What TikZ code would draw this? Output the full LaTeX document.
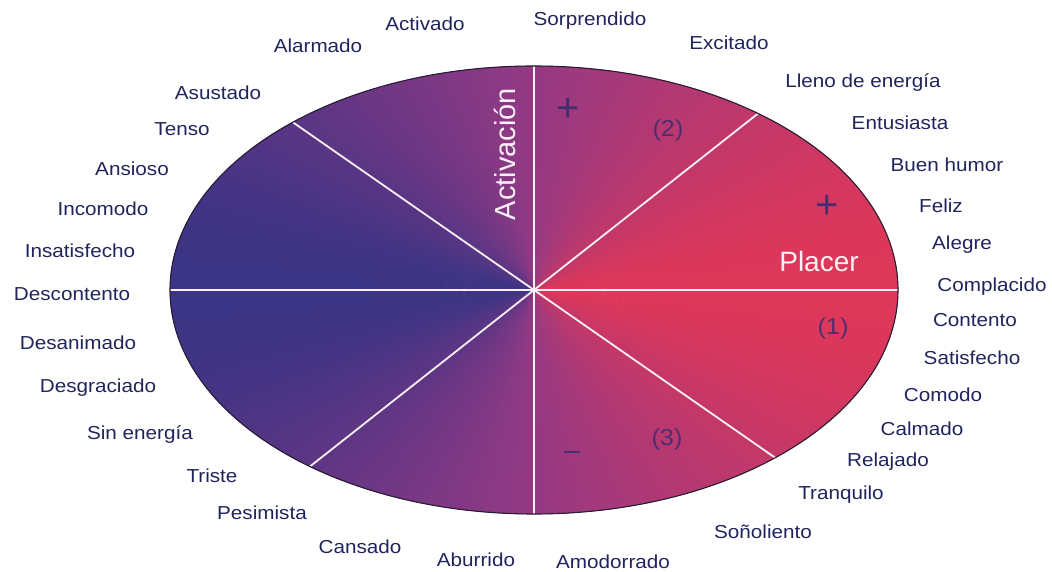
\documentclass[tikz,border=0pt]{standalone}
\usepackage{fontspec}
\setmainfont{Liberation Sans}
\newfontfamily\lbl[FakeStretch=1.1]{Liberation Sans}
\usetikzlibrary{calc}
\definecolor{navyT}{RGB}{32,36,92}
\definecolor{symC}{RGB}{58,44,112}
\definecolor{rimC}{RGB}{40,28,52}
\definecolor{sepC}{RGB}{250,240,245}
\tikzset{
  emo/.style={text=navyT, font=\lbl\fontsize{18.8}{22}\selectfont, inner sep=0pt},
  axislbl/.style={text=sepC, font=\fontsize{28}{32}\selectfont, inner sep=0pt},
  zonelbl/.style={text=symC, font=\lbl\fontsize{23}{26}\selectfont, inner sep=0pt, opacity=0.85},
  symlbl/.style={text=symC, font=\fontsize{40}{44}\selectfont, inner sep=0pt, opacity=0.9},
  sepline/.style={draw=sepC, line width=1.8pt},
  rim/.style={draw=rimC, line width=1.1pt}
}
\begin{document}
\begin{tikzpicture}[x=1pt,y=1pt]
\useasboundingbox (0,0) rectangle (1052,571);
\coordinate (C) at (534,281);
% conic colour fill of the ellipse
\foreach \a in {0,1,...,359}{
  \pgfmathsetmacro{\m}{\a+0.5}
  \pgfmathsetmacro{\u}{\m<=180 ? \m : 360-\m}
  \pgfmathsetmacro{\t}{\u<=90 ? 1-cos(\u) : -cos(\u)}
  \pgfmathtruncatemacro{\R}{\u<=90 ? 222+\t*(150-222) : 150+\t*(60-150)}
  \pgfmathtruncatemacro{\G}{\u<=90 ? 55+\t*(58-55) : 58+\t*(52-58)}
  \pgfmathtruncatemacro{\B}{\u<=90 ? 90+\t*(132-90) : 132+\t*(132-132)}
  \definecolor{wc}{RGB}{\R,\G,\B}
  \filldraw[fill=wc, draw=wc, line width=0.4pt] (C) -- ++({364*cos(\a)},{224*sin(\a)})
     arc[start angle=\a, end angle=\a+1.3, x radius=364pt, y radius=224pt] -- cycle;
}
% separator end points on the ellipse
\coordinate (T) at ($(C)+(90:364pt and 224pt)$);
\coordinate (Bo) at ($(C)+(270:364pt and 224pt)$);
\coordinate (L) at ($(C)+(180:364pt and 224pt)$);
\coordinate (R) at ($(C)+(0:364pt and 224pt)$);
\coordinate (UR) at ($(C)+(52:364pt and 224pt)$);
\coordinate (LL) at ($(C)+(232:364pt and 224pt)$);
\coordinate (UL) at ($(C)+(131.5:364pt and 224pt)$);
\coordinate (LR) at ($(C)+(311.5:364pt and 224pt)$);
\draw[sepline] (T) -- (Bo);
\draw[sepline] (L) -- (R);
\draw[sepline] (UR) -- (LL);
\draw[sepline] (UL) -- (LR);
\draw[rim] (C) ellipse[x radius=364pt, y radius=224pt];
% axis labels
\node[axislbl] (placer) at (819,310) {Placer};
\node[axislbl, rotate=90, font=\fontsize{29}{32}\selectfont] (activ) at (505,417) {Activación};
% zone marks
\node[symlbl] (plusT) at (568,461) {+};
\node[symlbl] (plusR) at (827,364) {+};
\node[symlbl, font=\fontsize{28}{30}\selectfont] (minus) at (572,116) {–};
\node[zonelbl] (z2) at (668,440) {(2)};
\node[zonelbl] (z1) at (833,242) {(1)};
\node[zonelbl] (z3) at (667,131) {(3)};
% emotion labels
\node[emo] (e1) at (425,547) {Activado};
\node[emo] (e2) at (318,525) {Alarmado};
\node[emo] (e3) at (218,478) {Asustado};
\node[emo] (e4) at (182,442) {Tenso};
\node[emo] (e5) at (132,402) {Ansioso};
\node[emo] (e6) at (103,362) {Incomodo};
\node[emo] (e7) at (80,320) {Insatisfecho};
\node[emo] (e8) at (72,277) {Descontento};
\node[emo] (e9) at (78,228) {Desanimado};
\node[emo] (e10) at (98,183) {Desgraciado};
\node[emo] (e11) at (140,136) {Sin energía};
\node[emo] (e12) at (212,95) {Triste};
\node[emo] (e13) at (262,58) {Pesimista};
\node[emo] (e14) at (360,24) {Cansado};
\node[emo] (e15) at (476,11) {Aburrido};
\node[emo] (e16) at (613,9) {Amodorrado};
\node[emo] (e17) at (763,39) {Soñoliento};
\node[emo] (e18) at (841,76) {Tranquilo};
\node[emo] (e19) at (888,109) {Relajado};
\node[emo] (e20) at (922,142) {Calmado};
\node[emo] (e21) at (943,176) {Comodo};
\node[emo] (e22) at (972,213) {Satisfecho};
\node[emo] (e23) at (975,251) {Contento};
\node[emo] (e24) at (992,284) {Complacido};
\node[emo] (e25) at (962,326) {Alegre};
\node[emo] (e26) at (941,365) {Feliz};
\node[emo] (e27) at (947,406) {Buen humor};
\node[emo] (e28) at (900,448) {Entusiasta};
\node[emo] (e29) at (863,488) {Lleno de energía};
\node[emo] (e30) at (729,528) {Excitado};
\node[emo] (e31) at (590,550) {Sorprendido};
\end{tikzpicture}
\end{document}
